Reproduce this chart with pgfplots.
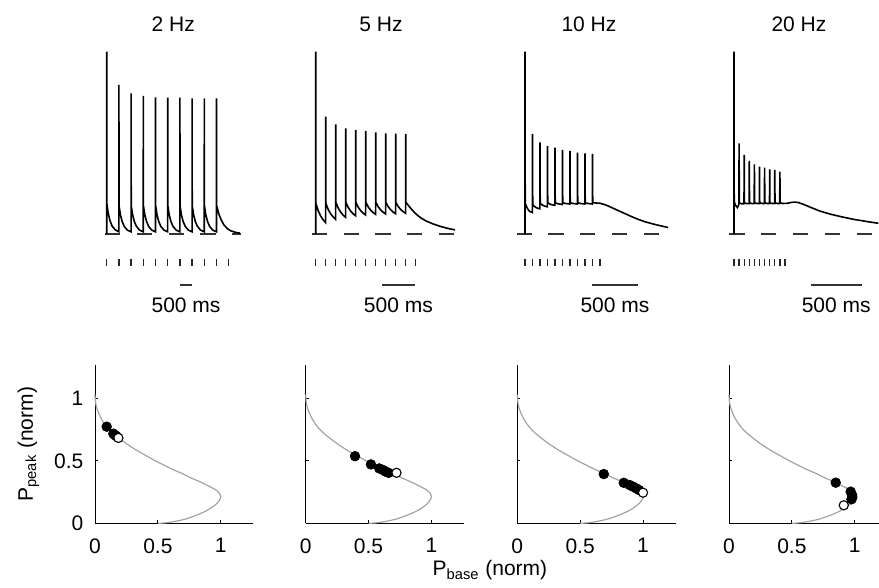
\documentclass[border=0pt]{standalone}
\usepackage{fontspec}
\setmainfont{Liberation Sans}
\usepackage{pgfplots}
\pgfplotsset{compat=1.18}

\definecolor{curvegray}{gray}{0.64}
\definecolor{dashgray}{gray}{0.2}

\pgfplotsset{
  every axis/.append style={font=\fontsize{10.5}{12}\selectfont},
  trace/.style={
    scale only axis, hide axis, clip=false, anchor=south west,
    height=155pt, ymin=-85.7, ymax=224.3,
  },
  vtrace/.style={black, line width=0.8pt},
  base/.style={dashgray, line width=0.85pt, dash pattern=on 7.6pt off 8.3pt},
  stim/.style={only marks, mark=|, mark size=1.8pt, black!85, mark options={line width=0.65pt}},
  bar/.style={black!80, line width=0.55pt},
  pp/.style={
    scale only axis, anchor=south west, clip=false,
    width=79.2pt, height=79.1pt,
    xmin=0, xmax=1.26, ymin=0, ymax=1.266,
    axis lines=left, axis line style={-, black, line width=0.5pt},
    tick align=inside, major tick length=1.5pt, tick style={black, line width=0.5pt},
    xtick={0,0.5,1}, ytick={0,0.5,1}, xticklabels={0,0.5,1},
    xticklabel style={yshift=-4pt}, yticklabel style={xshift=-2.3pt},
  },
  curve/.style={curvegray, line width=0.6pt, smooth, tension=0.5},
  full/.style={only marks, mark=*, mark size=2.4pt, black},
  open/.style={only marks, mark=*, mark size=2.3pt, mark options={fill=white, draw=black, line width=0.55pt}},
}

% model curve P_peak vs P_base (same in all panels)
\newcommand{\ppcurve}{%
  \addplot[curve] coordinates {
    (0,1.03) (0.003,0.98) (0.012,0.93) (0.03,0.88) (0.06,0.82) (0.10,0.765)
    (0.15,0.715) (0.20,0.675) (0.26,0.63) (0.33,0.585) (0.40,0.545) (0.48,0.50)
    (0.55,0.465) (0.62,0.43) (0.69,0.40) (0.76,0.365) (0.84,0.33) (0.91,0.295)
    (0.96,0.268) (0.99,0.24) (1.0,0.215) (0.99,0.185) (0.965,0.155) (0.92,0.12)
    (0.87,0.092) (0.80,0.062) (0.72,0.034) (0.63,0.014) (0.555,0.003) (0.50,0)
  };
}

\begin{document}
\begin{tikzpicture}
\useasboundingbox (0,0) rectangle (439.5pt,294pt);

% ---------- 2 Hz trace ----------
\begin{axis}[trace, at={(49.7pt,134pt)}, width=73.2pt, xmin=-300, xmax=5700]
\addplot[base] coordinates {(-70,0) (5490,0)};
\addplot[vtrace] coordinates {
  (0,0) (0,182.7) (4,31) (60,21.3) (130,13.9) (220,8.3) (350,4.4) (498,2.6)
  (500,149.3) (504,28.7) (560,19.7) (630,12.9) (720,7.8) (850,4.1) (998,2.5)
  (1000,141) (1004,28.7) (1060,19.7) (1130,12.9) (1220,7.8) (1350,4.1) (1498,2.5)
  (1500,138.3) (1504,28.7) (1560,19.7) (1630,12.9) (1720,7.8) (1850,4.1) (1998,2.5)
  (2000,137) (2004,28.7) (2060,19.7) (2130,12.9) (2220,7.8) (2350,4.1) (2498,2.5)
  (2500,136.7) (2504,28.7) (2560,19.7) (2630,12.9) (2720,7.8) (2850,4.1) (2998,2.5)
  (3000,136.7) (3004,28.7) (3060,19.7) (3130,12.9) (3220,7.8) (3350,4.1) (3498,2.5)
  (3500,136) (3504,28.7) (3560,19.7) (3630,12.9) (3720,7.8) (3850,4.1) (3998,2.5)
  (4000,136) (4004,28.7) (4060,19.7) (4130,12.9) (4220,7.8) (4350,4.1) (4498,2.5)
  (4500,136) (4504,28.7) (4600,20) (4700,14) (4800,9.5) (4950,5.5) (5100,3.3) (5300,1.8) (5460,1.2)
};
\addplot[stim] coordinates {(0,-28.2) (500,-28.2) (1000,-28.2) (1500,-28.2) (2000,-28.2) (2500,-28.2)
  (3000,-28.2) (3500,-28.2) (4000,-28.2) (4500,-28.2) (5000,-28.2)};
\addplot[bar] coordinates {(3000,-50.7) (3500,-50.7)};
\node[anchor=base] at (axis cs:3250,-78.7) {500 ms};
\node[anchor=base] at (axis cs:2730,202.6) {2 Hz};
\end{axis}

% ---------- 5 Hz trace ----------
\begin{axis}[trace, at={(152.85pt,134pt)}, width=77.5pt, xmin=-200, xmax=2900]
\addplot[base] coordinates {(-80,0) (2766,0)};
\addplot[vtrace] coordinates {
  (0,0) (0,182.7) (3,31) (50,23.6) (100,18.2) (150,14.4) (198,11.7)
  (200,117.7) (203,31) (250,24.8) (300,20.4) (350,17.3) (398,15)
  (400,110) (403,32) (450,26.2) (500,22.1) (550,19.1) (598,17)
  (600,106) (603,32) (650,26.8) (700,23.1) (750,20.4) (798,18.5)
  (800,104.3) (803,32) (850,27.1) (900,23.6) (950,21.1) (998,19.3)
  (1000,103.3) (1003,32) (1050,27.4) (1100,24.1) (1150,21.7) (1198,20)
  (1200,102) (1203,32) (1250,27.5) (1300,24.3) (1350,22.0) (1398,20.3)
  (1400,101) (1403,32) (1450,27.6) (1500,24.5) (1550,22.2) (1598,20.6)
  (1600,100.7) (1603,32) (1650,27.8) (1700,24.7) (1750,22.6) (1798,21)
  (1800,100.3) (1803,32) (1900,26) (2000,20.5) (2100,16.5) (2200,13.5) (2350,10.3)
  (2500,7.8) (2650,5.8) (2786,4.4)
};
\addplot[stim] coordinates {(0,-28.2) (200,-28.2) (400,-28.2) (600,-28.2) (800,-28.2) (1000,-28.2)
  (1200,-28.2) (1400,-28.2) (1600,-28.2) (1800,-28.2) (2000,-28.2)};
\addplot[bar] coordinates {(1320,-50.7) (1986,-50.7)};
\node[anchor=base] at (axis cs:1653,-78.7) {500 ms};
\node[anchor=base] at (axis cs:1306,202.6) {5 Hz};
\end{axis}

% ---------- 10 Hz trace ----------
\begin{axis}[trace, at={(256.875pt,134pt)}, width=78.75pt, xmin=-150, xmax=1950]
\addplot[base] coordinates {(-111,0) (1822,0)};
\addplot[vtrace] coordinates {
  (0,0) (0,182.7) (3,31) (30,26) (60,23) (98,21.7)
  (100,100.3) (103,29.5) (130,27.6) (160,26.3) (198,25.5)
  (200,92) (203,31) (230,29.3) (260,28.2) (298,27.5)
  (300,88.3) (303,31.5) (330,30.3) (360,29.5) (398,29)
  (400,86.7) (403,31.5) (440,30.5) (498,29.8)
  (500,84.3) (503,31.5) (540,30.8) (598,30.3)
  (600,83.3) (603,31.5) (640,30.8) (698,30.3)
  (700,81.7) (703,31.5) (740,30.8) (798,30.3)
  (800,81) (803,31.5) (840,30.8) (898,30.3)
  (900,80.3) (903,31.5) (950,31.3) (1000,31) (1050,30) (1100,28.6) (1200,25.2)
  (1300,21.8) (1400,18.4) (1500,15.2) (1600,12.5) (1750,9.5) (1907,6.8)
};
\addplot[stim] coordinates {(0,-28.2) (100,-28.2) (200,-28.2) (300,-28.2) (400,-28.2) (500,-28.2)
  (600,-28.2) (700,-28.2) (800,-28.2) (900,-28.2) (1000,-28.2)};
\addplot[bar] coordinates {(889,-50.7) (1511,-50.7)};
\node[anchor=base] at (axis cs:1200,-78.7) {500 ms};
\node[anchor=base] at (axis cs:853,202.6) {10 Hz};
\end{axis}

% ---------- 20 Hz trace ----------
\begin{axis}[trace, at={(361.9pt,134pt)}, width=77.52pt, xmin=-100, xmax=1420]
\addplot[base] coordinates {(-46,0) (1372,0)};
\addplot[vtrace] coordinates {
  (0,0) (0,182.7) (2,32.7) (15,29) (33,26.7) (48,30)
  (50,91) (52,31.5) (75,30.5) (98,30.6)
  (100,79.3) (102,31.5) (125,30.6) (148,30.7)
  (150,73.3) (152,31.5) (175,30.7) (198,30.8)
  (200,70) (202,31.5) (225,30.8) (248,30.8)
  (250,67.7) (252,31.5) (275,30.8) (298,30.8)
  (300,66.7) (302,31.5) (325,30.8) (348,30.8)
  (350,65) (352,31.5) (375,30.8) (398,30.8)
  (400,64.3) (402,31.5) (425,30.8) (448,30.8)
  (450,62.7) (452,31.5) (480,30.8) (520,31) (560,31.8) (590,32.2) (630,31.8) (680,30)
  (750,27) (843,23.2) (950,20) (1050,17.6) (1170,15) (1300,12.8) (1415,11)
};
\addplot[stim] coordinates {(0,-28.2) (50,-28.2) (100,-28.2) (150,-28.2) (200,-28.2) (250,-28.2)
  (300,-28.2) (350,-28.2) (400,-28.2) (450,-28.2) (500,-28.2)};
\addplot[bar] coordinates {(752,-50.7) (1252,-50.7)};
\node[anchor=base] at (axis cs:1002,-78.7) {500 ms};
\node[anchor=base] at (axis cs:637,202.6) {20 Hz};
\end{axis}

% ---------- P_peak vs P_base ----------
\begin{axis}[pp, at={(47.5pt,32.35pt)}, yticklabels={0,0.5,1},
  ylabel={P\textsubscript{peak} (norm)},
  ylabel style={at={(axis description cs:-0.42,0.5)}, anchor=center}]
\ppcurve
\addplot[full] coordinates {(0.093,0.773) (0.146,0.717) (0.16,0.705) (0.17,0.697)};
\addplot[open] coordinates {(0.186,0.683)};
\end{axis}

\begin{axis}[pp, at={(152.85pt,32.35pt)}, yticklabels={},
  xlabel={P\textsubscript{base} (norm)},
  xlabel style={at={(axis description cs:1.163,-0.333)}, anchor=base}]
\ppcurve
\addplot[full] coordinates {(0.392,0.537) (0.519,0.471) (0.585,0.439) (0.616,0.426) (0.638,0.412) (0.659,0.404)};
\addplot[open] coordinates {(0.722,0.404)};
\end{axis}

\begin{axis}[pp, at={(258.65pt,32.35pt)}, yticklabels={}]
\ppcurve
\addplot[full] coordinates {(0.688,0.394) (0.847,0.324) (0.894,0.306) (0.921,0.293) (0.947,0.279) (0.968,0.266)};
\addplot[open] coordinates {(1.0,0.245)};
\end{axis}

\begin{axis}[pp, at={(364.5pt,32.35pt)}, yticklabels={}]
\ppcurve
\addplot[full] coordinates {(0.849,0.325) (0.968,0.253) (0.979,0.227) (0.981,0.208) (0.974,0.192)};
\addplot[open] coordinates {(0.913,0.144)};
\end{axis}
\end{tikzpicture}
\end{document}
